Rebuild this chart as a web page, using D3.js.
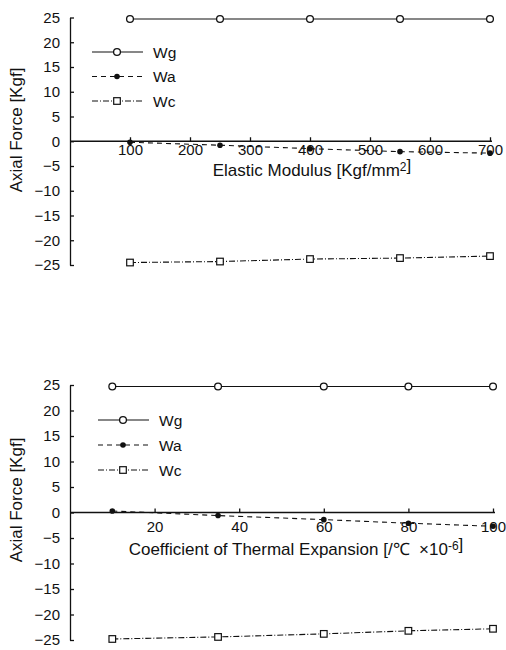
<!DOCTYPE html>
<html>
<head>
<meta charset="utf-8">
<script src="https://cdn.jsdelivr.net/npm/d3@7"></script>
<style>
  body { margin: 0; background: #fff; }
  svg { display: block; font-family: "Liberation Sans", Arial, Helvetica, sans-serif; }
</style>
</head>
<body>
<div id="chart"></div>
<script>
// series names (legend)
const seriesNames = ["Wg", "Wa", "Wc"];

// top panel: axial force vs elastic modulus
const modulusX = [100, 250, 400, 550, 700];
const modulusWg = [24.7, 24.7, 24.7, 24.7, 24.7];
const modulusWa = [-0.2, -0.8, -1.5, -2.1, -2.4];
const modulusWc = [-24.5, -24.3, -23.8, -23.6, -23.2];
const modulusTicks = [100, 200, 300, 400, 500, 600, 700];

// bottom panel: axial force vs coefficient of thermal expansion
const thermalX = [10, 35, 60, 80, 100];
const thermalWg = [24.7, 24.7, 24.7, 24.7, 24.7];
const thermalWa = [0.3, -0.6, -1.4, -2.1, -2.7];
const thermalWc = [-24.8, -24.4, -23.8, -23.2, -22.8];
const thermalTicks = [20, 40, 60, 80, 100];

const forceTicks = [25, 20, 15, 10, 5, 0, -5, -10, -15, -20, -25];

const width = 506;
const height = 650;

const svg = d3.select("#chart")
  .append("svg")
  .attr("width", width)
  .attr("height", height);

// line styles for each series
const styles = [
  { dash: null, marker: "circle" },
  { dash: "5,4", marker: "dot" },
  { dash: "6,2,1,2", marker: "square" },
];

const drawMarker = (g, type, x, y) => {
  if (type === "circle") {
    g.append("circle").attr("cx", x).attr("cy", y).attr("r", 3.4)
      .attr("fill", "#fff").attr("stroke", "#111").attr("stroke-width", 1.3);
  } else if (type === "dot") {
    g.append("circle").attr("cx", x).attr("cy", y).attr("r", 2.8)
      .attr("fill", "#111");
  } else {
    g.append("rect").attr("x", x - 3.3).attr("y", y - 3.3)
      .attr("width", 6.6).attr("height", 6.6)
      .attr("fill", "#fff").attr("stroke", "#111").attr("stroke-width", 1.2);
  }
};

const drawPanel = (p) => {
  const x = d3.scaleLinear().domain(p.xDomain).range(p.xRange);
  const y = d3.scaleLinear().domain([-25, 25]).range(p.yRange);
  const g = svg.append("g");

  // y axis with inward ticks
  const yAxis = g.append("g")
    .attr("transform", `translate(${p.xRange[0]},0)`)
    .call(d3.axisLeft(y).tickValues(forceTicks).tickSize(-4).tickSizeOuter(0).tickPadding(10));
  yAxis.selectAll("text").attr("font-size", 15).attr("fill", "#111")
    .attr("font-family", "Liberation Sans, Arial, sans-serif");
  yAxis.selectAll("path, line").attr("stroke", "#111").attr("stroke-width", 1.3);

  // x axis drawn along y = 0, ticks upward
  const xAxis = g.append("g")
    .attr("transform", `translate(0,${y(0)})`)
    .call(d3.axisBottom(x).tickValues(p.xTicks).tickSize(-4).tickSizeOuter(0)
      .tickPadding(p.labelGap).tickFormat(d3.format("d")));
  xAxis.select(".domain").attr("d", `M${p.xRange[0]},0H${p.xRange[1] + 2}`);
  xAxis.selectAll("text").attr("font-size", 15).attr("fill", "#111")
    .attr("font-family", "Liberation Sans, Arial, sans-serif");
  xAxis.selectAll("path, line").attr("stroke", "#111").attr("stroke-width", 1.3);

  // series
  p.series.forEach((vals, i) => {
    const pts = p.xs.map((d, j) => [x(d), y(vals[j])]);
    g.append("path")
      .attr("d", d3.line()(pts))
      .attr("fill", "none")
      .attr("stroke", "#111")
      .attr("stroke-width", 1.1)
      .attr("stroke-dasharray", styles[i].dash);
    pts.forEach((pt) => drawMarker(g, styles[i].marker, pt[0], pt[1]));
  });

  // legend
  seriesNames.forEach((name, i) => {
    const ly = p.legend.y + i * p.legend.step;
    g.append("line")
      .attr("x1", p.legend.x).attr("x2", p.legend.x + 51)
      .attr("y1", ly).attr("y2", ly)
      .attr("stroke", "#111").attr("stroke-width", 1.1)
      .attr("stroke-dasharray", styles[i].dash);
    drawMarker(g, styles[i].marker, p.legend.x + 25, ly);
    g.append("text")
      .attr("x", p.legend.x + 61).attr("y", ly + 5.5)
      .attr("font-size", 15.5).attr("fill", "#111")
      .text(name);
  });

  // y title
  g.append("text")
    .attr("transform", `translate(22,${p.yTitleY}) rotate(-90)`)
    .attr("text-anchor", "middle")
    .attr("font-size", 17).attr("fill", "#111")
    .text("Axial Force [Kgf]");

  // x title
  const t = g.append("text")
    .attr("x", p.xTitle.x).attr("y", p.xTitle.y)
    .attr("text-anchor", "middle")
    .attr("font-size", 17).attr("fill", "#111");
  p.xTitle.parts.forEach((part) => {
    if (part.sup) {
      t.append("tspan").attr("font-size", 12).attr("dy", -5).text(part.text);
      t.append("tspan").attr("dy", 5).text("");
    } else {
      t.append("tspan").text(part.text);
    }
  });
};

drawPanel({
  xDomain: [0, 700], xRange: [70, 490], yRange: [265, 17.5],
  xTicks: modulusTicks, labelGap: 3, xs: modulusX,
  series: [modulusWg, modulusWa, modulusWc],
  legend: { x: 92, y: 52, step: 24.5 },
  yTitleY: 130,
  xTitle: { x: 312, y: 176, parts: [{ text: "Elastic Modulus [Kgf/mm" }, { text: "2", sup: true }, { text: "]" }] },
});

drawPanel({
  xDomain: [0, 100], xRange: [70, 493], yRange: [640, 385],
  xTicks: thermalTicks, labelGap: 9, xs: thermalX,
  series: [thermalWg, thermalWa, thermalWc],
  legend: { x: 98, y: 420, step: 25 },
  yTitleY: 500,
  xTitle: { x: 296, y: 555, parts: [{ text: "Coefficient of Thermal Expansion [/\u2103\u00a0\u00a0\u00d710" }, { text: "-6", sup: true }, { text: "]" }] },
});
</script>
</body>
</html>
